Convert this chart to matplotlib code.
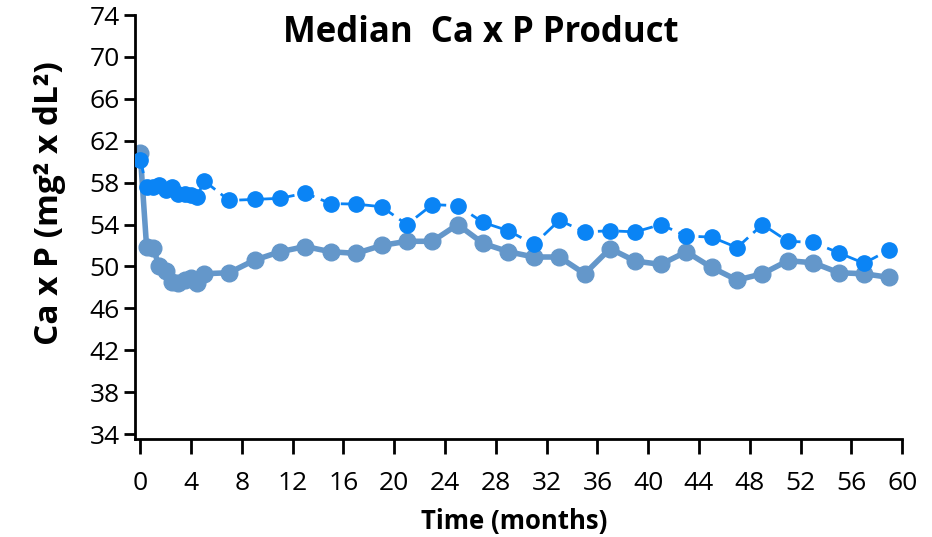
import matplotlib
matplotlib.use("Agg")
import matplotlib.pyplot as plt

# months (same sampling for both series)
months = [0, 0.5, 1, 1.5, 2, 2.5, 3, 3.5, 4, 4.5, 5,
          7, 9, 11, 13, 15, 17, 19, 21, 23, 25, 27, 29, 31, 33, 35,
          37, 39, 41, 43, 45, 47, 49, 51, 53, 55, 57, 59]

# dashed series (bright blue)
dashed_vals = [60.2, 57.6, 57.6, 57.8, 57.3, 57.6, 56.9, 56.9, 56.8, 56.6, 58.2,
               56.3, 56.4, 56.5, 57.0, 56.0, 55.95, 55.7, 54.0, 55.9, 55.8, 54.2, 53.4, 52.1, 54.4, 53.3,
               53.4, 53.3, 54.0, 52.9, 52.8, 51.8, 54.0, 52.4, 52.3, 51.3, 50.3, 51.6]

# solid series (steel blue)
solid_vals = [60.8, 51.9, 51.8, 50.0, 49.6, 48.5, 48.4, 48.7, 48.9, 48.4, 49.3,
              49.4, 50.6, 51.4, 51.9, 51.4, 51.25, 52.0, 52.4, 52.4, 54.0, 52.2, 51.4, 50.9, 50.9, 49.3,
              51.7, 50.5, 50.2, 51.4, 49.9, 48.7, 49.3, 50.55, 50.35, 49.4, 49.3, 48.95]

xticks = list(range(0, 61, 4))
yticks = list(range(34, 75, 4))

plt.rcParams['font.family'] = ['Open Sans', 'DejaVu Sans']

fig = plt.figure(figsize=(9.32, 5.37), dpi=100)
ax = fig.add_axes([0.145, 0.182, 0.823, 0.79])

ax.plot(months, solid_vals, color='#6497CA', lw=4, marker='o', ms=12,
        solid_capstyle='round', zorder=2)
ax.plot(months, dashed_vals, color='#0A84F5', lw=2, ls=(0, (5, 2.5)), marker='o', ms=11,
        zorder=3)

ax.set_xlim(-0.4, 60)
ax.set_ylim(33.5, 74)
ax.set_xticks(xticks)
ax.set_yticks(yticks)

for s in ['top', 'right']:
    ax.spines[s].set_visible(False)
for s in ['left', 'bottom']:
    ax.spines[s].set_linewidth(2)
ax.tick_params(axis='x', length=11, width=2, labelsize=19, pad=12)
ax.tick_params(axis='y', length=8, width=2, labelsize=19, pad=3)

fig.text(481 / 932, 1 - 33 / 537, 'Median  Ca x P Product', ha='center', va='center',
         fontsize=25, fontweight='bold')
fig.text(50 / 932, 1 - 203 / 537, 'Ca x P (mg² x dL²)', ha='center', va='center',
         rotation=90, fontsize=24, fontweight='bold')
fig.text(514 / 932, 1 - 521 / 537, 'Time (months)', ha='center', va='center',
         fontsize=18.5, fontweight='bold')

plt.savefig('out.png', dpi=100)
